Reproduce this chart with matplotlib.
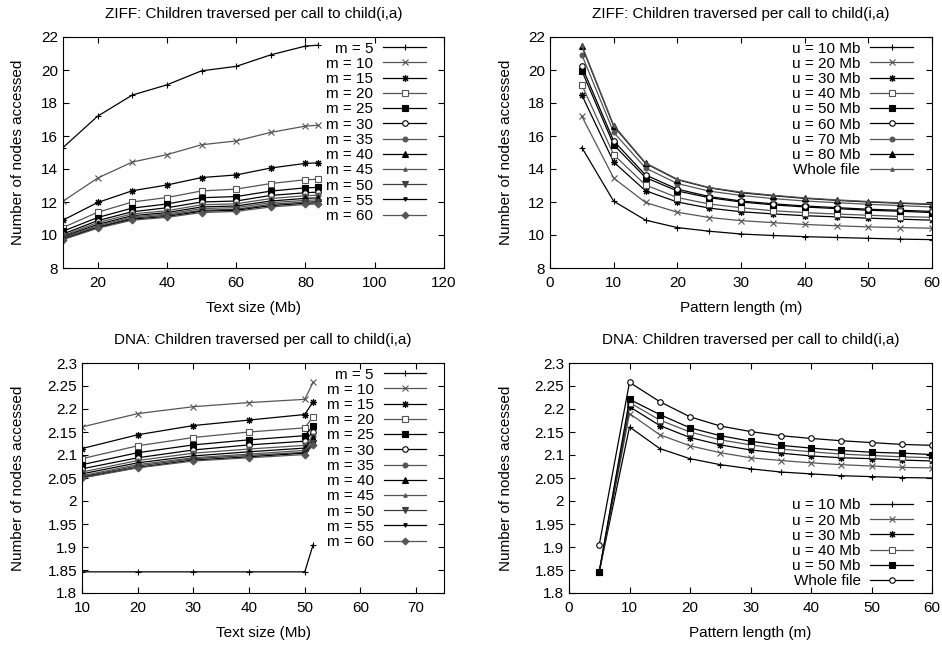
import matplotlib
matplotlib.use('Agg')
import matplotlib.pyplot as plt
import numpy as np

plt.rcParams['font.family'] = ['Liberation Sans', 'DejaVu Sans']

# pattern lengths (m) and text sizes (u, Mb); "whole file" sits at ~83.5 Mb (ZIFF) / ~51.5 Mb (DNA)
m_vals = [5, 10, 15, 20, 25, 30, 35, 40, 45, 50, 55, 60]
ziff_sizes = [10, 20, 30, 40, 50, 60, 70, 80, 83.5]
dna_sizes = [10, 20, 30, 40, 50, 51.5]

# ZIFF: nodes accessed per m, one list per text size
ziff_u10 = [15.3, 12.05, 10.9, 10.45, 10.23, 10.06, 9.97, 9.9, 9.85, 9.8, 9.75, 9.72]
ziff_u20 = [17.2, 13.45, 11.97, 11.38, 11.06, 10.87, 10.75, 10.64, 10.56, 10.49, 10.45, 10.41]
ziff_u30 = [18.48, 14.42, 12.68, 12.0, 11.63, 11.41, 11.28, 11.17, 11.1, 11.02, 10.96, 10.9]
ziff_u40 = [19.1, 14.87, 13.03, 12.27, 11.88, 11.65, 11.47, 11.36, 11.27, 11.2, 11.12, 11.07]
ziff_u50 = [19.95, 15.47, 13.48, 12.67, 12.26, 12.0, 11.83, 11.7, 11.6, 11.5, 11.44, 11.36]
ziff_u60 = [20.22, 15.7, 13.64, 12.78, 12.33, 12.06, 11.89, 11.76, 11.66, 11.56, 11.5, 11.43]
ziff_u70 = [20.92, 16.22, 14.06, 13.12, 12.66, 12.4, 12.21, 12.06, 11.96, 11.86, 11.78, 11.7]
ziff_u80 = [21.45, 16.6, 14.34, 13.35, 12.86, 12.56, 12.38, 12.22, 12.1, 12.0, 11.92, 11.85]
ziff_whole = [21.5, 16.65, 14.37, 13.38, 12.88, 12.6, 12.41, 12.25, 12.13, 12.03, 11.95, 11.88]

# DNA: nodes accessed per m, one list per text size
dna_u10 = [1.846, 2.161, 2.114, 2.092, 2.079, 2.07, 2.063, 2.059, 2.055, 2.053, 2.051, 2.05]
dna_u20 = [1.846, 2.19, 2.144, 2.12, 2.105, 2.094, 2.088, 2.083, 2.079, 2.076, 2.073, 2.072]
dna_u30 = [1.846, 2.205, 2.164, 2.138, 2.122, 2.111, 2.104, 2.098, 2.094, 2.092, 2.089, 2.087]
dna_u40 = [1.846, 2.214, 2.176, 2.15, 2.133, 2.122, 2.113, 2.107, 2.102, 2.099, 2.096, 2.094]
dna_u50 = [1.846, 2.221, 2.188, 2.159, 2.142, 2.13, 2.121, 2.115, 2.11, 2.106, 2.104, 2.101]
dna_whole = [1.905, 2.258, 2.216, 2.183, 2.163, 2.151, 2.142, 2.136, 2.131, 2.127, 2.123, 2.121]

ziff_table = [ziff_u10, ziff_u20, ziff_u30, ziff_u40, ziff_u50, ziff_u60, ziff_u70, ziff_u80, ziff_whole]
dna_table = [dna_u10, dna_u20, dna_u30, dna_u40, dna_u50, dna_whole]
ziff_labels = ['u = 10 Mb', 'u = 20 Mb', 'u = 30 Mb', 'u = 40 Mb', 'u = 50 Mb',
               'u = 60 Mb', 'u = 70 Mb', 'u = 80 Mb', 'Whole file']
dna_labels = ['u = 10 Mb', 'u = 20 Mb', 'u = 30 Mb', 'u = 40 Mb', 'u = 50 Mb', 'Whole file']

# gnuplot-ish point types: (marker, size, filled)
styles = [('+', 5, True), ('x', 4, True), ((8, 2, 0), 5, True), ('s', 4, False),
          ('s', 5, True), ('o', 4, False), ('o', 3.5, True), ('^', 4.5, True),
          ('^', 2.5, True), ('v', 4.5, True), ('v', 2.5, True), ('D', 3.5, True)]
greys = ['black', '#555555', 'black', '#555555', 'black', 'black',
         '#555555', 'black', '#555555', '#404040', 'black', '#555555']
FS = 11
YTICKS_DNA = [1.8, 1.85, 1.9, 1.95, 2.0, 2.05, 2.1, 2.15, 2.2, 2.25, 2.3]
YLABELS_DNA = ['1.8', '1.85', '1.9', '1.95', '2', '2.05', '2.1', '2.15', '2.2', '2.25', '2.3']


def plot_series(ax, x, y, i, label):
    mk, ms, filled = styles[i]
    c = greys[i]
    ax.plot(x, y, color=c, lw=0.9, marker=mk, markersize=ms, markeredgewidth=0.8,
            markeredgecolor=c, markerfacecolor=c if filled else 'white', label=label)


def add_legend(ax, loc, anchor):
    leg = ax.legend(loc=loc, bbox_to_anchor=anchor, frameon=False, markerfirst=False,
                    fontsize=FS, handlelength=2.8, labelspacing=0.08, borderaxespad=0.0,
                    handletextpad=0.65, borderpad=0.3)
    for t in leg.get_texts():
        t.set_ha('right')
    return leg


def style_axes(ax, title, xlabel, ylab_x):
    ax.set_title(title, fontsize=FS, pad=14)
    ax.set_xlabel(xlabel, fontsize=FS, labelpad=8)
    ax.set_ylabel('Number of nodes accessed', fontsize=FS)
    ax.yaxis.set_label_coords(ylab_x, 0.5)
    ax.tick_params(direction='in', top=True, right=True, labelsize=FS, length=4, width=0.8)
    ax.tick_params(axis='x', pad=6)
    for s in ax.spines.values():
        s.set_linewidth(0.8)


def add_ax(fig, l, r, t, b):
    W, H = 942., 646.
    return fig.add_axes([l / W, 1 - b / H, (r - l) / W, (b - t) / H])


fig = plt.figure(figsize=(9.42, 6.46), dpi=100)

# ZIFF vs text size
ax1 = add_ax(fig, 63, 444, 37, 268)
for i, m in enumerate(m_vals):
    plot_series(ax1, ziff_sizes, [row[i] for row in ziff_table], i, 'm = %d' % m)
ax1.set_xlim(10, 120)
ax1.set_xticks([20, 40, 60, 80, 100, 120])
ax1.set_ylim(8, 22)
ax1.set_yticks(np.arange(8, 23, 2))
style_axes(ax1, 'ZIFF: Children traversed per call to child(i,a)', 'Text size (Mb)', -0.1)
add_legend(ax1, 'upper right', (0.965, 1.0))

# ZIFF vs pattern length
ax2 = add_ax(fig, 550, 932, 37, 268)
for i, row in enumerate(ziff_table):
    plot_series(ax2, m_vals, row, i, ziff_labels[i])
ax2.set_xlim(0, 60)
ax2.set_xticks(np.arange(0, 61, 10))
ax2.set_ylim(8, 22)
ax2.set_yticks(np.arange(8, 23, 2))
style_axes(ax2, 'ZIFF: Children traversed per call to child(i,a)', 'Pattern length (m)', -0.097)
add_legend(ax2, 'upper right', (0.962, 1.0))

# DNA vs text size
ax3 = add_ax(fig, 82, 444, 363, 593)
for i, m in enumerate(m_vals):
    plot_series(ax3, dna_sizes, [row[i] for row in dna_table], i, 'm = %d' % m)
ax3.set_xlim(10, 75)
ax3.set_xticks(np.arange(10, 71, 10))
ax3.set_ylim(1.8, 2.3)
ax3.set_yticks(YTICKS_DNA)
ax3.set_yticklabels(YLABELS_DNA)
style_axes(ax3, 'DNA: Children traversed per call to child(i,a)', 'Text size (Mb)', -0.157)
ax3.title.set_y(1.005)
add_legend(ax3, 'upper right', (0.964, 1.0))

# DNA vs pattern length
ax4 = add_ax(fig, 569, 932, 363, 593)
for i, row in enumerate(dna_table):
    plot_series(ax4, m_vals, row, i, dna_labels[i])
# whole file uses the open circle in the reference
ax4.get_lines()[5].set_marker('o')
ax4.get_lines()[5].set_markerfacecolor('white')
ax4.set_xlim(0, 60)
ax4.set_xticks(np.arange(0, 61, 10))
ax4.set_ylim(1.8, 2.3)
ax4.set_yticks(YTICKS_DNA)
ax4.set_yticklabels(YLABELS_DNA)
style_axes(ax4, 'DNA: Children traversed per call to child(i,a)', 'Pattern length (m)', -0.154)
ax4.title.set_y(1.005)
add_legend(ax4, 'lower right', (0.961, 0.0))

fig.savefig('out.png', dpi=100)
